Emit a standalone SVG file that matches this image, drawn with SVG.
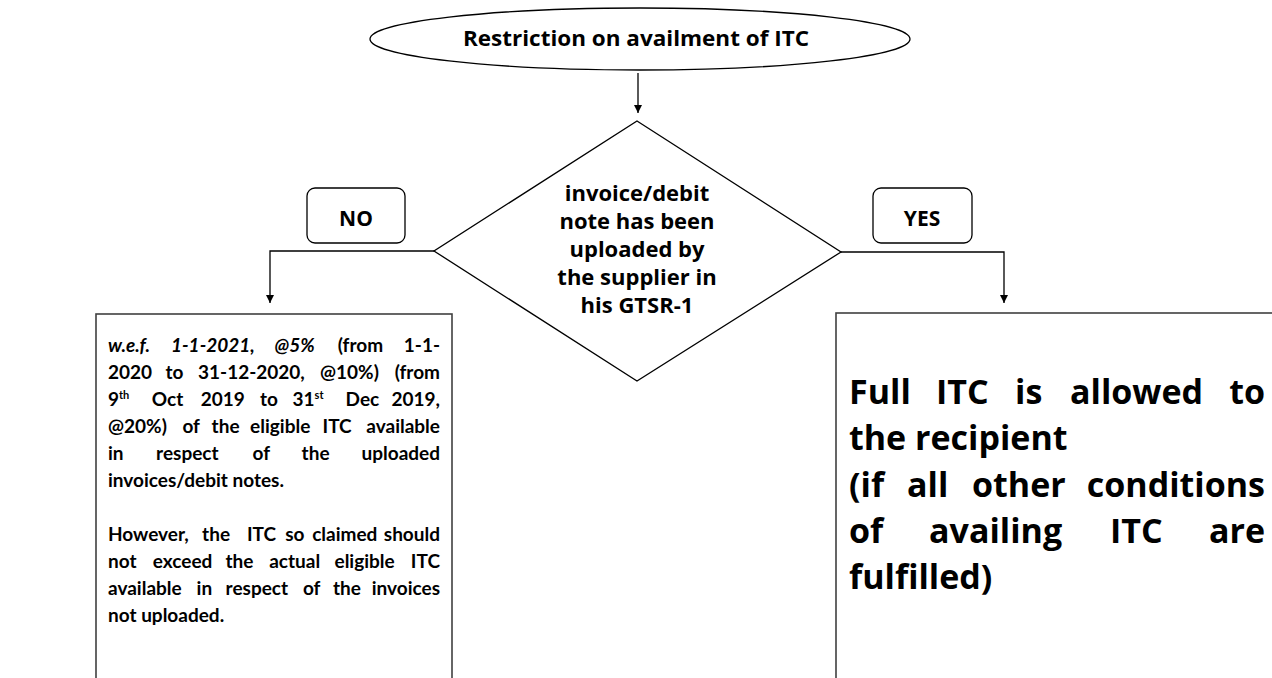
<svg xmlns="http://www.w3.org/2000/svg" width="1272" height="678" viewBox="0 0 1272 678">
<style>
text{font-family:"Open Sans","Liberation Sans",sans-serif;font-weight:700;fill:#000}
.shape{fill:#fff;stroke:#000;stroke-width:1.3}
.box{fill:#fff;stroke:#404040;stroke-width:1.6}
.conn{fill:none;stroke:#000;stroke-width:1.3}
.c{text-anchor:middle}
.e{text-anchor:end}
.lt text{font-family:Lato,"Liberation Sans",sans-serif;font-size:19px}
.rt{font-size:34px}
.dt{font-size:22px}
.it{font-style:italic}
.sup{font-size:11px}
</style>
<defs>
<marker id="ah" markerWidth="8" markerHeight="8" refX="8" refY="4" orient="auto" markerUnits="userSpaceOnUse">
<path d="M0,0 L8,4 L0,8 z" fill="#000"/>
</marker>
</defs>
<rect width="1272" height="678" fill="#fff"/>

<g id="connectors">
<line class="conn" x1="638" y1="73" x2="638" y2="113" marker-end="url(#ah)"/>
<polyline class="conn" points="434,251 270,251 270,303" marker-end="url(#ah)"/>
<polyline class="conn" points="841,252 1004,252 1004,303" marker-end="url(#ah)"/>
</g>

<g id="start">
<ellipse class="shape" cx="640" cy="39" rx="270" ry="31"/>
<text class="c" x="636" y="46" font-size="21" textLength="346" lengthAdjust="spacingAndGlyphs">Restriction on availment of ITC</text>
</g>

<g id="decision">
<polygon class="shape" points="637,121 841,252 637,381 434,251"/>
<text class="c dt" x="637" y="201">invoice/debit</text>
<text class="c dt" x="637" y="229">note has been</text>
<text class="c dt" x="637" y="257">uploaded by</text>
<text class="c dt" x="637" y="285">the supplier in</text>
<text class="c dt" x="637" y="313">his GTSR-1</text>
</g>

<g id="no-label">
<rect class="shape" x="307" y="188" width="98" height="55" rx="8"/>
<text class="c" x="356" y="226" font-size="21">NO</text>
</g>

<g id="yes-label">
<rect class="shape" x="873" y="188" width="99" height="55" rx="8"/>
<text class="c" x="922" y="226" font-size="21">YES</text>
</g>

<g id="no-result">
<rect class="box" x="96" y="314" width="356" height="380"/>
<g class="lt">
<text x="108" y="352" class="it">w.e.f.</text>
<text x="171" y="352" class="it">1-1-2021,</text>
<text x="274.5" y="352" class="it">@5%</text>
<text x="337.7" y="352">(from</text>
<text x="440" y="352" class="e">1-1-</text>

<text x="108" y="379">2020</text>
<text x="165.4" y="379">to</text>
<text x="198" y="379">31-12-2020,</text>
<text x="320" y="379">@10%)</text>
<text x="440" y="379" class="e">(from</text>

<text x="108" y="406">9<tspan class="sup" dy="-7">th</tspan></text>
<text x="151.8" y="406">Oct</text>
<text x="200.8" y="406">2019</text>
<text x="260" y="406">to</text>
<text x="292.5" y="406">31<tspan class="sup" dy="-7">st</tspan></text>
<text x="345.6" y="406">Dec</text>
<text x="440" y="406" class="e">2019,</text>

<text x="108" y="433">@20%)</text>
<text x="182.4" y="433">of</text>
<text x="211.6" y="433">the</text>
<text x="250.1" y="433">eligible</text>
<text x="322.5" y="433">ITC</text>
<text x="440" y="433" class="e">available</text>

<text x="108" y="460">in</text>
<text x="156.1" y="460">respect</text>
<text x="252.5" y="460">of</text>
<text x="301.6" y="460">the</text>
<text x="440" y="460" class="e">uploaded</text>

<text x="108" y="487">invoices/debit notes.</text>

<text x="108" y="541">However,</text>
<text x="202.1" y="541">the</text>
<text x="246.9" y="541">ITC</text>
<text x="285.2" y="541">so</text>
<text x="312.2" y="541">claimed</text>
<text x="440" y="541" class="e">should</text>

<text x="108" y="568">not</text>
<text x="152.8" y="568">exceed</text>
<text x="225.4" y="568">the</text>
<text x="269.2" y="568">actual</text>
<text x="334.5" y="568">eligible</text>
<text x="440" y="568" class="e">ITC</text>

<text x="108" y="595">available</text>
<text x="196.6" y="595">in</text>
<text x="225.6" y="595">respect</text>
<text x="302.9" y="595">of</text>
<text x="332.9" y="595">the</text>
<text x="440" y="595" class="e">invoices</text>

<text x="108" y="622">not uploaded.</text>
</g>
</g>

<g id="yes-result">
<rect class="box" x="836" y="313" width="450" height="380"/>
<g class="rt">
<text x="849" y="404">Full</text>
<text x="936" y="404">ITC</text>
<text x="1015" y="404">is</text>
<text x="1070" y="404">allowed</text>
<text x="1265" y="404" class="e">to</text>

<text x="849" y="450">the recipient</text>

<text x="849" y="497">(if</text>
<text x="907" y="497">all</text>
<text x="972" y="497">other</text>
<text x="1265" y="497" class="e">conditions</text>

<text x="849" y="543">of</text>
<text x="929" y="543">availing</text>
<text x="1110" y="543">ITC</text>
<text x="1265" y="543" class="e">are</text>

<text x="849" y="589">fulfilled)</text>
</g>
</g>
</svg>
